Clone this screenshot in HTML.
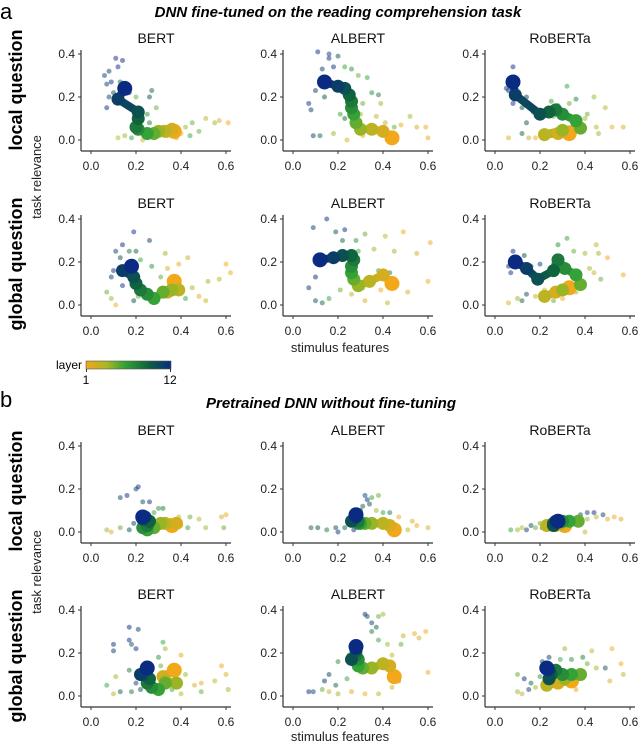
<!DOCTYPE html>
<html><head><meta charset="utf-8"><style>
body{margin:0;background:#fff}
svg{display:block;font-family:"Liberation Sans",Arial,sans-serif}
</style></head><body>
<svg id="fig" width="640" height="743" viewBox="0 0 640 743" xmlns="http://www.w3.org/2000/svg">
<defs><linearGradient id="cb" x1="0" x2="1" y1="0" y2="0">
<stop offset="0" stop-color="#f2a81a"/><stop offset="0.25" stop-color="#a6b724"/><stop offset="0.45" stop-color="#35a337"/><stop offset="0.75" stop-color="#0c5e3e"/><stop offset="1" stop-color="#0b2a82"/></linearGradient></defs>
<text x="0" y="19" font-size="22">a</text>
<text x="338" y="17" font-size="15" font-weight="bold" font-style="italic" text-anchor="middle">DNN fine-tuned on the reading comprehension task</text>
<text x="0" y="407" font-size="22">b</text>
<text x="331" y="408" font-size="15" font-weight="bold" font-style="italic" text-anchor="middle">Pretrained DNN without fine-tuning</text>
<text transform="translate(22,90) rotate(-90)" font-size="18" font-weight="bold" text-anchor="middle">local question</text>
<text transform="translate(22,264) rotate(-90)" font-size="18" font-weight="bold" text-anchor="middle">global question</text>
<text transform="translate(22,491) rotate(-90)" font-size="18" font-weight="bold" text-anchor="middle">local question</text>
<text transform="translate(22,656) rotate(-90)" font-size="18" font-weight="bold" text-anchor="middle">global question</text>
<text transform="translate(41,177) rotate(-90)" font-size="13" fill="#222" text-anchor="middle">task relevance</text>
<text transform="translate(41,572) rotate(-90)" font-size="13" fill="#222" text-anchor="middle">task relevance</text>
<text x="340" y="352" font-size="13" fill="#222" text-anchor="middle">stimulus features</text>
<text x="340" y="741" font-size="13" fill="#222" text-anchor="middle">stimulus features</text>
<g>
<rect x="86" y="361" width="85" height="8" fill="url(#cb)" stroke="#555" stroke-width="0.6"/>
<text x="82" y="369" font-size="12" text-anchor="end">layer</text>
<line x1="86.5" y1="369" x2="86.5" y2="372" stroke="#333"/><line x1="170.5" y1="369" x2="170.5" y2="372" stroke="#333"/>
<text x="86" y="384" font-size="12" text-anchor="middle">1</text>
<text x="170" y="384" font-size="12" text-anchor="middle">12</text>
</g>
<g id="panels"></g>
</svg>
<script>
const models = ["BERT","ALBERT","RoBERTa"];
const xTicks = [0.0,0.2,0.4,0.6];
const yTicks = [0.0,0.2,0.4];
// trajectories: layer 1..12 [stimulus, task]
const trajALocal = [
 [[0.37,0.04],[0.36,0.05],[0.33,0.04],[0.30,0.04],[0.28,0.03],[0.25,0.03],[0.21,0.05],[0.20,0.06],[0.21,0.10],[0.21,0.13],[0.12,0.19],[0.15,0.24]],
 [[0.44,0.01],[0.40,0.04],[0.35,0.05],[0.30,0.05],[0.28,0.08],[0.27,0.12],[0.26,0.15],[0.26,0.18],[0.25,0.21],[0.23,0.24],[0.20,0.25],[0.14,0.27]],
 [[0.33,0.03],[0.28,0.03],[0.22,0.025],[0.30,0.045],[0.38,0.055],[0.36,0.09],[0.30,0.12],[0.27,0.14],[0.24,0.13],[0.20,0.12],[0.09,0.21],[0.08,0.27]]];
const trajAGlobal = [
 [[0.37,0.11],[0.34,0.06],[0.39,0.07],[0.36,0.07],[0.32,0.06],[0.28,0.03],[0.25,0.05],[0.22,0.07],[0.20,0.10],[0.19,0.13],[0.14,0.16],[0.18,0.18]],
 [[0.44,0.10],[0.40,0.14],[0.34,0.11],[0.29,0.09],[0.27,0.12],[0.26,0.15],[0.26,0.18],[0.27,0.21],[0.26,0.23],[0.22,0.23],[0.18,0.22],[0.12,0.21]],
 [[0.33,0.08],[0.27,0.06],[0.22,0.04],[0.30,0.07],[0.38,0.095],[0.36,0.14],[0.31,0.17],[0.28,0.21],[0.26,0.16],[0.19,0.12],[0.14,0.17],[0.09,0.20]]];
const trajBLocal = [
 [[0.36,0.03],[0.38,0.04],[0.33,0.04],[0.31,0.04],[0.28,0.02],[0.25,0.01],[0.23,0.02],[0.25,0.03],[0.26,0.05],[0.23,0.06],[0.24,0.07],[0.23,0.07]],
 [[0.45,0.01],[0.43,0.03],[0.40,0.04],[0.35,0.04],[0.32,0.04],[0.30,0.04],[0.29,0.04],[0.29,0.05],[0.27,0.06],[0.26,0.05],[0.28,0.07],[0.28,0.08]],
 [[0.31,0.03],[0.27,0.03],[0.23,0.03],[0.29,0.04],[0.37,0.05],[0.33,0.05],[0.30,0.05],[0.28,0.05],[0.26,0.04],[0.26,0.03],[0.27,0.05],[0.28,0.05]]];
const trajBGlobal = [
 [[0.37,0.12],[0.32,0.09],[0.33,0.07],[0.38,0.06],[0.33,0.06],[0.30,0.03],[0.27,0.04],[0.25,0.06],[0.26,0.08],[0.23,0.10],[0.22,0.10],[0.25,0.13]],
 [[0.45,0.09],[0.43,0.14],[0.40,0.15],[0.35,0.13],[0.31,0.13],[0.29,0.14],[0.29,0.17],[0.28,0.19],[0.28,0.21],[0.26,0.17],[0.28,0.22],[0.28,0.23]],
 [[0.34,0.07],[0.28,0.06],[0.23,0.05],[0.31,0.08],[0.38,0.10],[0.34,0.10],[0.30,0.10],[0.27,0.12],[0.25,0.10],[0.24,0.08],[0.24,0.12],[0.23,0.13]]];
// scatter points [stimulus, task, layer]
const ptsALocal = [
 [[0.11,0.38,12],[0.14,0.37,12],[0.08,0.32,11],[0.12,0.34,12],[0.06,0.30,11],[0.09,0.27,12],[0.07,0.26,11],[0.13,0.27,9],[0.08,0.20,11],[0.07,0.15,12],[0.10,0.22,10],[0.17,0.22,12],[0.26,0.20,10],[0.27,0.23,9],[0.20,0.20,5],[0.25,0.12,7],[0.26,0.08,8],[0.21,0.04,10],[0.15,0.02,4],[0.12,0.01,3],[0.18,0.01,6],[0.23,0.00,2],[0.32,0.06,5],[0.29,0.15,5],[0.38,0.01,2],[0.42,0.06,4],[0.45,0.08,5],[0.51,0.10,3],[0.57,0.09,2],[0.61,0.08,1],[0.55,0.08,4],[0.48,0.04,5],[0.40,0.03,1],[0.34,0.02,1],[0.44,0.02,6]],
 [[0.11,0.41,12],[0.16,0.40,11],[0.16,0.38,12],[0.20,0.39,10],[0.13,0.33,11],[0.18,0.34,12],[0.10,0.23,11],[0.07,0.17,12],[0.08,0.14,11],[0.14,0.20,10],[0.23,0.34,6],[0.26,0.33,7],[0.29,0.30,5],[0.33,0.29,6],[0.38,0.21,8],[0.39,0.17,4],[0.35,0.22,7],[0.31,0.17,5],[0.23,0.10,9],[0.21,0.12,6],[0.30,0.12,4],[0.37,0.11,3],[0.45,0.06,5],[0.52,0.11,4],[0.55,0.06,2],[0.59,0.06,1],[0.60,0.01,2],[0.48,0.07,1],[0.09,0.02,11],[0.12,0.02,9],[0.18,0.03,4],[0.24,0.00,2],[0.31,0.02,1],[0.41,0.08,3]],
 [[0.08,0.34,12],[0.05,0.24,11],[0.06,0.23,12],[0.10,0.28,11],[0.08,0.17,12],[0.12,0.15,10],[0.14,0.20,11],[0.17,0.13,9],[0.14,0.08,10],[0.12,0.03,9],[0.25,0.18,6],[0.28,0.16,7],[0.33,0.17,5],[0.36,0.19,8],[0.32,0.25,6],[0.41,0.12,5],[0.44,0.20,4],[0.49,0.15,3],[0.45,0.06,3],[0.52,0.06,1],[0.57,0.06,2],[0.06,0.01,2],[0.15,0.01,3],[0.18,0.01,1],[0.26,0.11,5],[0.46,0.03,4],[0.40,0.10,4]]];
const ptsAGlobal = [
 [[0.19,0.34,12],[0.26,0.30,11],[0.14,0.28,12],[0.11,0.25,11],[0.13,0.22,10],[0.10,0.16,12],[0.09,0.13,11],[0.17,0.25,8],[0.22,0.21,6],[0.20,0.25,9],[0.27,0.18,7],[0.33,0.24,4],[0.43,0.22,3],[0.34,0.17,2],[0.39,0.19,1],[0.07,0.06,5],[0.09,0.03,4],[0.11,0.00,1],[0.14,0.09,12],[0.19,0.02,10],[0.21,0.04,5],[0.45,0.08,4],[0.52,0.11,4],[0.57,0.12,3],[0.60,0.19,1],[0.62,0.15,1],[0.48,0.04,2],[0.51,0.02,3],[0.42,0.03,6],[0.35,0.10,1],[0.31,0.13,5]],
 [[0.15,0.40,12],[0.09,0.36,11],[0.19,0.34,10],[0.23,0.35,12],[0.22,0.30,9],[0.28,0.30,7],[0.32,0.33,5],[0.29,0.25,6],[0.36,0.26,4],[0.41,0.32,3],[0.49,0.34,1],[0.45,0.25,4],[0.55,0.24,2],[0.61,0.29,1],[0.60,0.11,1],[0.38,0.16,6],[0.43,0.15,8],[0.10,0.13,12],[0.07,0.08,11],[0.10,0.02,10],[0.13,0.01,9],[0.16,0.03,6],[0.21,0.07,5],[0.26,0.05,3],[0.32,0.02,2],[0.39,0.07,1],[0.42,0.01,3],[0.31,0.08,5],[0.51,0.06,2]],
 [[0.08,0.25,12],[0.06,0.18,11],[0.07,0.15,12],[0.13,0.23,10],[0.16,0.18,9],[0.20,0.19,11],[0.28,0.28,7],[0.32,0.31,6],[0.35,0.25,5],[0.40,0.24,4],[0.45,0.28,3],[0.46,0.24,4],[0.50,0.22,1],[0.42,0.17,4],[0.44,0.15,3],[0.47,0.12,5],[0.57,0.14,1],[0.14,0.05,10],[0.12,0.02,9],[0.06,0.01,2],[0.10,0.03,4],[0.18,0.04,3],[0.22,0.07,2],[0.26,0.02,5],[0.30,0.03,1],[0.36,0.06,4],[0.26,0.19,8],[0.24,0.15,6]]];
const ptsBLocal = [
 [[0.21,0.21,12],[0.20,0.20,11],[0.16,0.17,12],[0.13,0.16,11],[0.23,0.14,10],[0.26,0.14,12],[0.30,0.11,7],[0.32,0.11,8],[0.28,0.09,6],[0.19,0.04,11],[0.17,0.01,10],[0.07,0.01,4],[0.09,0.00,2],[0.13,0.02,5],[0.35,0.05,4],[0.40,0.03,1],[0.44,0.07,5],[0.48,0.06,3],[0.51,0.02,4],[0.58,0.07,2],[0.59,0.02,5],[0.60,0.08,1],[0.43,0.02,6],[0.39,0.07,3]],
 [[0.32,0.17,11],[0.35,0.16,6],[0.38,0.17,5],[0.33,0.15,12],[0.34,0.13,10],[0.31,0.12,9],[0.37,0.10,4],[0.40,0.09,6],[0.43,0.09,8],[0.30,0.10,11],[0.27,0.08,10],[0.23,0.02,9],[0.19,0.02,10],[0.15,0.01,8],[0.08,0.02,9],[0.11,0.02,10],[0.20,0.00,12],[0.27,0.01,12],[0.35,0.03,5],[0.46,0.03,4],[0.53,0.05,2],[0.55,0.03,1],[0.51,0.01,3],[0.60,0.02,2],[0.47,0.07,1]],
 [[0.07,0.01,6],[0.10,0.01,4],[0.12,0.02,3],[0.14,0.01,11],[0.16,0.03,10],[0.18,0.02,5],[0.21,0.02,9],[0.22,0.04,3],[0.31,0.05,8],[0.35,0.05,6],[0.38,0.08,10],[0.41,0.09,11],[0.44,0.09,12],[0.48,0.08,11],[0.41,0.06,4],[0.45,0.07,3],[0.50,0.06,2],[0.53,0.07,1],[0.56,0.06,2],[0.20,0.04,5],[0.32,0.02,1],[0.40,0.00,3]]];
const ptsBGlobal = [
 [[0.17,0.32,12],[0.21,0.31,11],[0.10,0.24,12],[0.10,0.21,11],[0.17,0.26,12],[0.18,0.24,10],[0.20,0.22,12],[0.32,0.25,6],[0.33,0.22,4],[0.40,0.19,2],[0.30,0.18,7],[0.31,0.14,5],[0.17,0.12,8],[0.11,0.09,4],[0.07,0.05,6],[0.10,0.01,3],[0.13,0.02,9],[0.18,0.02,8],[0.20,0.06,11],[0.22,0.03,10],[0.36,0.03,6],[0.40,0.01,3],[0.42,0.10,4],[0.46,0.05,2],[0.49,0.06,1],[0.55,0.07,3],[0.58,0.14,1],[0.60,0.10,2],[0.61,0.03,4],[0.49,0.02,5]],
 [[0.32,0.38,12],[0.33,0.37,10],[0.38,0.37,5],[0.40,0.38,4],[0.35,0.34,11],[0.37,0.32,9],[0.35,0.30,8],[0.38,0.26,6],[0.42,0.24,4],[0.49,0.28,3],[0.54,0.29,1],[0.56,0.27,2],[0.59,0.30,1],[0.60,0.11,1],[0.48,0.24,5],[0.44,0.19,3],[0.25,0.19,10],[0.20,0.16,7],[0.16,0.10,11],[0.14,0.07,12],[0.19,0.05,9],[0.13,0.03,5],[0.16,0.02,3],[0.20,0.01,4],[0.26,0.02,2],[0.32,0.01,1],[0.38,0.01,3],[0.44,0.04,2],[0.47,0.07,5],[0.07,0.02,12],[0.09,0.02,11],[0.24,0.08,6]],
 [[0.10,0.10,5],[0.13,0.08,12],[0.10,0.02,4],[0.12,0.01,3],[0.15,0.03,11],[0.16,0.06,9],[0.20,0.09,7],[0.21,0.16,10],[0.24,0.18,11],[0.29,0.17,6],[0.31,0.22,4],[0.34,0.17,7],[0.39,0.18,8],[0.43,0.21,3],[0.41,0.15,5],[0.45,0.13,4],[0.49,0.13,10],[0.52,0.22,1],[0.51,0.07,2],[0.56,0.15,1],[0.57,0.10,3],[0.18,0.04,4],[0.36,0.03,2],[0.27,0.08,5]]];

const rowTraj = [trajALocal, trajAGlobal, trajBLocal, trajBGlobal];
const rowPts = [ptsALocal, ptsAGlobal, ptsBLocal, ptsBGlobal];
const rowNames = ["a-local","a-global","b-local","b-global"];
const rowZeroY = [140, 305, 532, 696];
const colZeroX = [91, 293, 495];
const XS = 225, YS = 215;

const stops = [[0,[242,168,26]],[0.25,[166,183,36]],[0.45,[53,163,55]],[0.75,[12,94,62]],[1,[11,42,130]]];
function cmap(layer){
  const t=(layer-1)/11;
  for(let i=0;i<stops.length-1;i++){
    const a=stops[i],b=stops[i+1];
    if(t<=b[0]){const f=(t-a[0])/(b[0]-a[0]);
      return "rgb("+a[1].map((v,k)=>Math.round(v+(b[1][k]-v)*f)).join(",")+")";}
  }
  return "rgb(11,42,130)";
}
const NS="http://www.w3.org/2000/svg";
function mk(tag,attrs,parent){const e=document.createElementNS(NS,tag);for(const k in attrs)e.setAttribute(k,attrs[k]);parent.appendChild(e);return e;}
const root=document.getElementById("panels");
for(let r=0;r<4;r++){
  for(let c=0;c<3;c++){
    const x0=colZeroX[c], y0=rowZeroY[r];
    const sx=v=>x0+v*XS, sy=v=>y0-v*YS;
    const g=mk("g",{},root);
    
    
    const t=mk("text",{x:x0+65,y:y0-97,"font-size":14,"text-anchor":"middle",fill:"#111"},g);
    t.textContent=models[c];
    
    
    const ya=mk("line",{x1:x0-10,y1:y0-90,x2:x0-10,y2:y0+11,stroke:"#333","stroke-width":1.2},g);
    
    
    const xa=mk("line",{x1:x0-10,y1:y0+11,x2:x0+140,y2:y0+11,stroke:"#333","stroke-width":1.2},g);
    
    
    yTicks.forEach(v=>{
      mk("line",{x1:x0-13,y1:sy(v),x2:x0-10,y2:sy(v),stroke:"#333"},g);
      const l=mk("text",{x:x0-16,y:sy(v)+4,"font-size":12,"text-anchor":"end",fill:"#222"},g);
      l.textContent=v.toFixed(1);
      
      
    });
    xTicks.forEach(v=>{
      mk("line",{x1:sx(v),y1:y0+11,x2:sx(v),y2:y0+14,stroke:"#333"},g);
      const l=mk("text",{x:sx(v),y:y0+30,"font-size":12,"text-anchor":"middle",fill:"#222"},g);
      l.textContent=v.toFixed(1);
      
      
    });
    rowPts[r][c].forEach(p=>{
      const d=mk("circle",{cx:sx(p[0]),cy:sy(p[1]),r:2.5,fill:cmap(p[2]),"fill-opacity":0.5},g);
      
      
    });
    const tr=rowTraj[r][c];
    for(let i=0;i<tr.length-1;i++){
      const s=mk("line",{x1:sx(tr[i][0]),y1:sy(tr[i][1]),x2:sx(tr[i+1][0]),y2:sy(tr[i+1][1]),stroke:cmap(i+1.5),"stroke-width":8,"stroke-linecap":"round"},g);
      
      
    }
    tr.forEach((p,i)=>{
      const d=mk("circle",{cx:sx(p[0]),cy:sy(p[1]),r:(i===0||i===tr.length-1)?7.5:6.5,fill:cmap(i+1)},g);
      
      
    });
  }
}
</script>
</body></html>
